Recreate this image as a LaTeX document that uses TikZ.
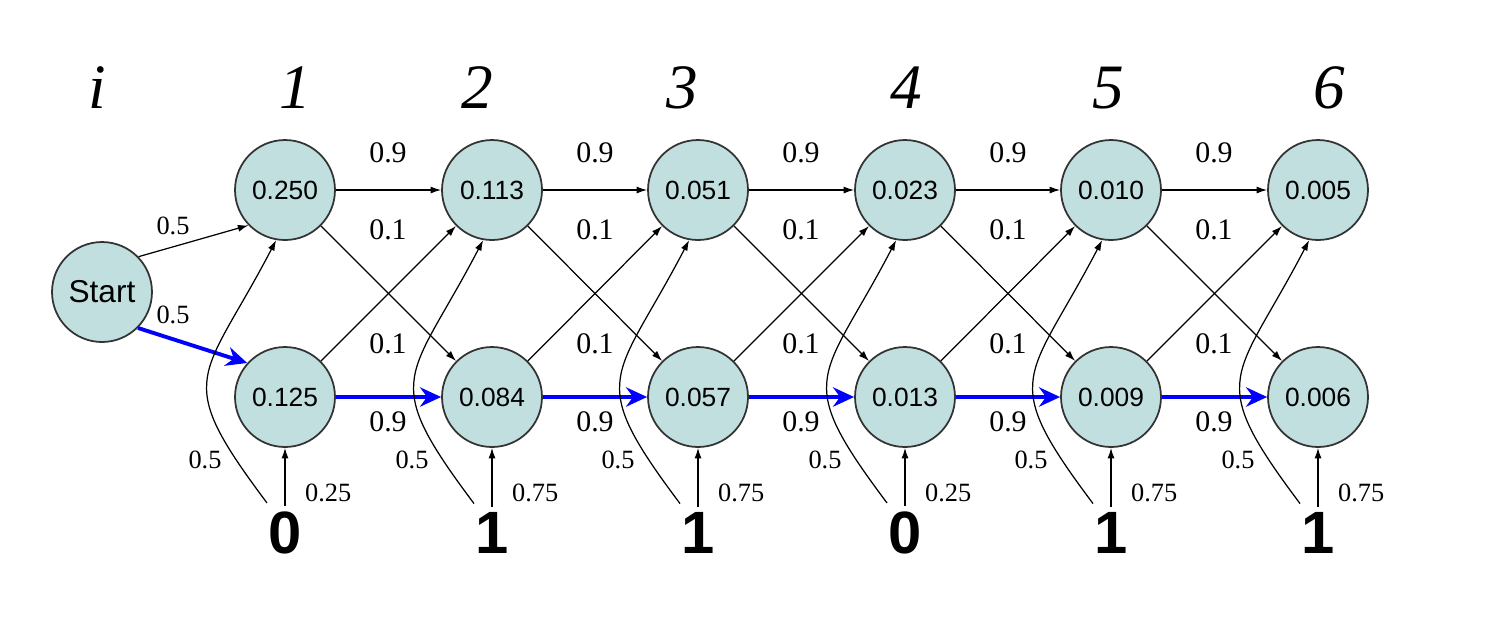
\documentclass[tikz,border=0pt]{standalone}
\usepackage{fontspec}
\setmainfont{Liberation Serif}
\setsansfont{Liberation Sans}
\usetikzlibrary{arrows.meta}
\definecolor{statefill}{RGB}{194,223,224}
\tikzset{
  state/.style={circle, draw=black!80, fill=statefill, line width=1pt, minimum size=2cm, inner sep=0pt, font=\sffamily\fontsize{15}{18}\selectfont},
  trans/.style={-{Latex[length=6pt,width=4pt]}, line width=0.7pt},
  best/.style={-{Stealth[length=12pt,width=11pt,inset=4pt]}, blue, line width=2.2pt},
  prob/.style={font=\fontsize{17}{20}\selectfont},
  emit/.style={font=\fontsize{15}{18}\selectfont},
  head/.style={anchor=base, font=\fontsize{36}{40}\selectfont\itshape},
  obs/.style={anchor=base, inner sep=0pt, font=\sffamily\bfseries\fontsize{34}{38}\selectfont}
}
\begin{document}
\begin{tikzpicture}[x=0.02cm, y=-0.02cm]
          \useasboundingbox (0,0) rectangle (1494,630);
          % column headers
          \node [head] (hi) at (97,108) {i};
          \node [head] (h1) at (295,108) {1};
          \node [head] (h2) at (477,108) {2};
          \node [head] (h3) at (682,108) {3};
          \node [head] (h4) at (906,108) {4};
          \node [head] (h5) at (1108,108) {5};
          \node [head] (h6) at (1329,108) {6};
          % states
          \node [state, font=\sffamily\fontsize{18}{20}\selectfont] (start) at (102,292) {Start};
          \node [state] (t1) at (285,190) {0.250};
          \node [state] (t2) at (492,190) {0.113};
          \node [state] (t3) at (698,190) {0.051};
          \node [state] (t4) at (905,190) {0.023};
          \node [state] (t5) at (1111,190) {0.010};
          \node [state] (t6) at (1318,190) {0.005};
          \node [state] (b1) at (285,397) {0.125};
          \node [state] (b2) at (492,397) {0.084};
          \node [state] (b3) at (698,397) {0.057};
          \node [state] (b4) at (905,397) {0.013};
          \node [state] (b5) at (1111,397) {0.009};
          \node [state] (b6) at (1318,397) {0.006};
          % observed symbols
          \node [obs] (o1) at (285,553) {0};
          \node [obs] (o2) at (492,553) {1};
          \node [obs] (o3) at (698,553) {1};
          \node [obs] (o4) at (905,553) {0};
          \node [obs] (o5) at (1111,553) {1};
          \node [obs] (o6) at (1318,553) {1};
          % start
          \draw [trans] (start.44) -- (t1.224);
          \draw [best] (start.-45) -- (b1.138);
          \node [emit] at (173,226) {0.5};
          \node [emit] at (173,315) {0.5};
          % transitions
          \foreach \i/\j/\m in {1/2/388, 2/3/595, 3/4/801, 4/5/1008, 5/6/1214} {
            \draw [trans] (t\i) -- (t\j);
            \draw [trans] (t\i) -- (b\j);
            \draw [trans] (b\i) -- (t\j);
            \draw [best] (b\i) -- (b\j);
            \node [prob] at (\m,153) {0.9};
            \node [prob] at (\m,230) {0.1};
            \node [prob] at (\m,344) {0.1};
            \node [prob] at (\m,422) {0.9};
          }
          % emissions
          \foreach \i/\x/\p in {1/285/0.25, 2/492/0.75, 3/698/0.75, 4/905/0.25, 5/1111/0.75, 6/1318/0.75} {
            \draw [trans] (o\i.north) ++(0,-5) -- (b\i);
            \draw [trans] (o\i.north) ++(-18,-8) .. controls +(-96,-128) and +(-74,142) .. (t\i.-100);
            \node [emit] at (\x-80,460) {0.5};
            \node [emit, anchor=west] at (\x+14,493) {\p};
          }
        \end{tikzpicture}
\end{document}
